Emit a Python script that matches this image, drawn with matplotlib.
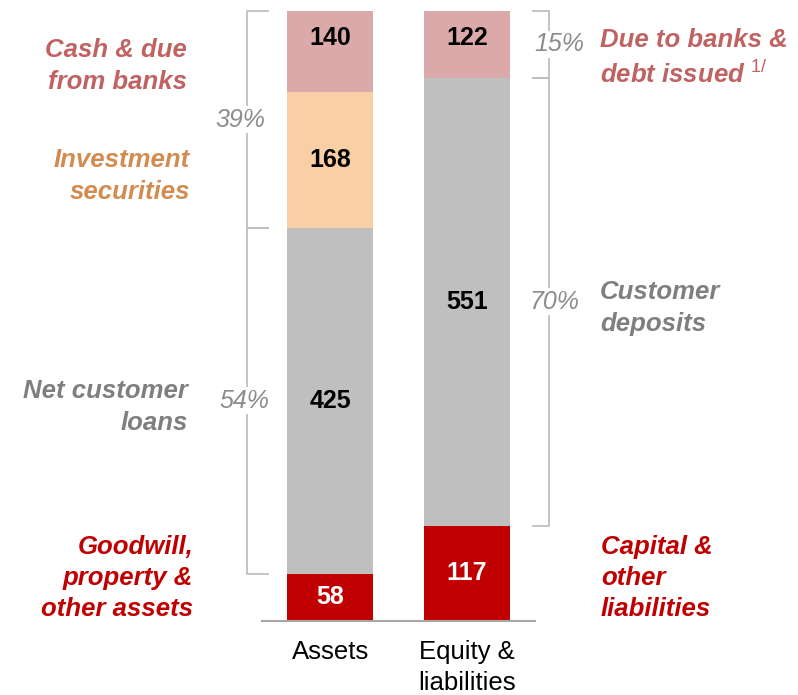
import matplotlib.pyplot as plt

plt.rcParams['font.family'] = ['Liberation Sans', 'DejaVu Sans']
plt.rcParams['mathtext.fontset'] = 'custom'
plt.rcParams['mathtext.it'] = 'Liberation Sans:italic'
plt.rcParams['mathtext.rm'] = 'Liberation Sans'

# Data (USD bn)
CATEGORIES = ["Assets", "Equity &\nliabilities"]
ASSET_VALUES = [58, 425, 168, 140]          # bottom -> top
LIAB_VALUES = [117, 551, 122]               # bottom -> top
ASSET_COLORS = ["#C00000", "#BFBFBF", "#F9CFA6", "#DBA9AA"]
LIAB_COLORS = ["#C00000", "#BFBFBF", "#DBA9AA"]
ASSET_NAMES = ["Goodwill,\nproperty &\nother assets", "Net customer\nloans",
               "Investment\nsecurities", "Cash & due\nfrom banks"]
LIAB_NAMES = ["Capital &\nother\nliabilities", "Customer\ndeposits",
              "Due to banks &\ndebt issued $^{\\mathit{1/}}$"]
ASSET_NAME_COLORS = ["#C00000", "#7F7F7F", "#D28C50", "#C06262"]
LIAB_NAME_COLORS = ["#C00000", "#7F7F7F", "#C06262"]

# Constants
W, H = 798, 695
YMAX = 750
BAR_W = 0.63
BRACE_C = "#BFBFBF"
PCT_C = "#8C8C8C"
FS = 18.5
LS = 1.37

fig = plt.figure(figsize=(W / 100, H / 100), dpi=100)
ax = fig.add_axes([262 / W, 74 / H, 273 / W, 610 / H])
ax.set_xlim(-0.5, 1.5)
ax.set_ylim(0, YMAX)


def stack(x, values, colors):
    bottom = 0
    for v, c in zip(values, colors):
        ax.bar(x, v, BAR_W, bottom=bottom, color=c, linewidth=0)
        yc = min(bottom + v / 2, YMAX * 0.955)
        tc = "white" if c == "#C00000" else "black"
        ax.text(x, yc, str(v), ha="center", va="center", fontsize=18,
                fontweight="bold", color=tc)
        bottom += v


stack(0, ASSET_VALUES, ASSET_COLORS)
stack(1, LIAB_VALUES, LIAB_COLORS)

# Axis styling
for s in ["top", "right", "left"]:
    ax.spines[s].set_visible(False)
ax.spines["bottom"].set_color("#A6A6A6")
ax.spines["bottom"].set_linewidth(1.5)
ax.set_yticks([])
ax.set_xticks([0, 1])
ax.set_xticklabels(CATEGORIES, fontsize=18.5, linespacing=1.38)
ax.tick_params(axis="x", length=0, pad=13.5)


def brace(x, x_tip, y0, y1, pct, pct_x):
    ax.plot([x_tip, x, x, x_tip], [y0, y0, y1, y1], color=BRACE_C, lw=1.3,
            clip_on=False, solid_joinstyle="round")
    ax.text(pct_x, (y0 + y1) / 2, f"{pct:.0f}%", ha="center", va="center",
            fontsize=18, style="italic", color=PCT_C, clip_on=False,
            bbox=dict(facecolor="white", edgecolor="none", pad=1))


a_tot = sum(ASSET_VALUES)
l_tot = sum(LIAB_VALUES)
a_split = ASSET_VALUES[0] + ASSET_VALUES[1]
l_split = LIAB_VALUES[0] + LIAB_VALUES[1]

brace(-0.613, -0.453, a_split, YMAX, 100 * sum(ASSET_VALUES[2:]) / a_tot, -0.655)
brace(-0.613, -0.453, ASSET_VALUES[0], a_split, 100 * ASSET_VALUES[1] / a_tot, -0.63)
brace(1.606, 1.482, l_split, YMAX, 100 * LIAB_VALUES[2] / l_tot, 1.68)
brace(1.606, 1.482, LIAB_VALUES[0], l_split, 100 * LIAB_VALUES[1] / l_tot, 1.64)

# Category labels (pixel positions)
left_pos = [(193, 578), (188, 407), (190, 176), (187, 66)]
for (px, py), name, c in zip(left_pos, ASSET_NAMES, ASSET_NAME_COLORS):
    fig.text(px / W, 1 - py / H, name, ha="right", va="center", fontsize=FS,
             fontweight="bold", style="italic", color=c, linespacing=LS)

right_pos = [(601, 578), (600, 308), (600, 58)]
for (px, py), name, c in zip(right_pos, LIAB_NAMES, LIAB_NAME_COLORS):
    fig.text(px / W, 1 - py / H, name, ha="left", va="center", fontsize=FS,
             fontweight="bold", style="italic", color=c, linespacing=LS)

fig.savefig("out.png", dpi=100, facecolor="white")
